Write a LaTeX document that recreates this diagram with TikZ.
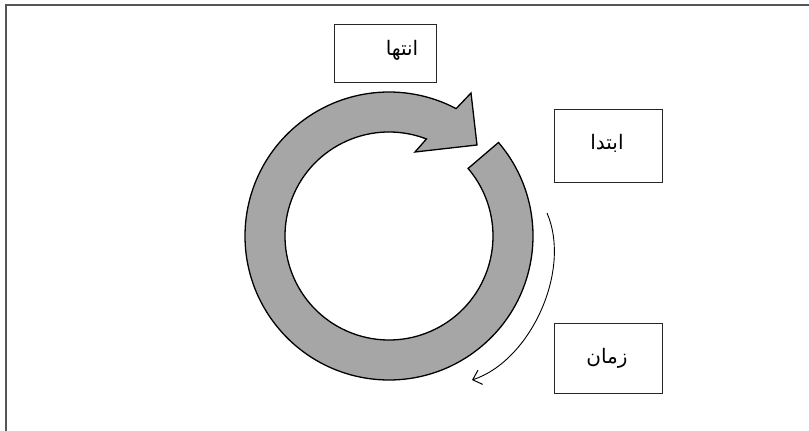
\documentclass[tikz,border=0pt]{standalone}
\usepackage{fontspec}
\newfontfamily\arabicfont[Script=Arabic]{DejaVu Sans}
\TeXXeTstate=1
\usetikzlibrary{arrows.meta,calc}
\definecolor{framecol}{HTML}{555555}
\definecolor{ringfill}{HTML}{A6A6A6}
\definecolor{shadowcol}{HTML}{6E6E6E}
\tikzset{
  labelbox/.style={draw=black!85, line width=0.9pt, inner sep=0pt, fill=white},
  fatext/.style={font=\arabicfont\fontsize{20}{24}\selectfont, inner sep=0pt},
  ringpath/.style={line width=1.3pt, line join=miter},
  timearrow/.style={line width=0.9pt, -{Straight Barb[length=8pt,width=15pt,line width=1pt]}}
}
\begin{document}
\begin{tikzpicture}[x=1pt,y=1pt]
\useasboundingbox (0,0) rectangle (809,431);
% frame
\draw[framecol, line width=2pt] (6,0) -- (6,426) -- (809,426);
% ring geometry
\coordinate (c) at (389,195);
\coordinate (barb) at (471,338);
\coordinate (tip) at (477,286);
\coordinate (base) at (415,279);
% shadow
\fill[shadowcol, shift={(-2.5,-3.5)}]
  ($(c)+(40.5:144)$) arc[start angle=40.5, end angle=-297.8, radius=144]
  -- (barb) -- (tip) -- (base) -- ($(c)+(68.9:104)$)
  arc[start angle=-291.1, end angle=40.5, radius=104] -- cycle;
% ring arrow
\filldraw[ringpath, fill=ringfill, draw=black]
  ($(c)+(40.5:144)$) arc[start angle=40.5, end angle=-297.8, radius=144]
  -- (barb) -- (tip) -- (base) -- ($(c)+(68.9:104)$)
  arc[start angle=-291.1, end angle=40.5, radius=104] -- cycle;
% boxes
\node[labelbox, minimum width=102pt, minimum height=58pt] (endbox) at (385,378) {};
\node[labelbox, minimum width=108pt, minimum height=73pt] (startbox) at (608,285.5) {};
\node[labelbox, minimum width=108pt, minimum height=70pt] (timebox) at (608,73) {};
\node[fatext] (endtxt) at (402,381) {\beginR انتها\endR};
\node[fatext] (starttxt) at (607,288) {\beginR ابتدا\endR};
\node[fatext] (timetxt) at (607,73) {\beginR زمان\endR};
% time arrow
\coordinate (ts) at (547,218);
\coordinate (te) at (472,51);
\draw[timearrow] (ts) .. controls (572,160) and (530,70) .. (te);
\end{tikzpicture}
\end{document}
